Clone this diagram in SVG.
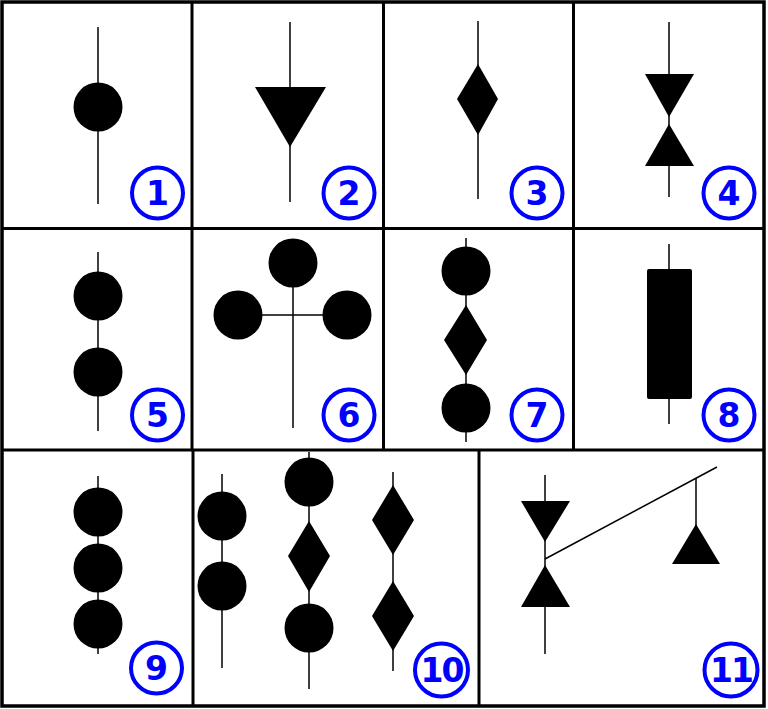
<svg xmlns="http://www.w3.org/2000/svg" width="768" height="709" viewBox="0 0 768 709">
<style>
.frame{fill:none;stroke:#000;stroke-width:3.5}
.grid{stroke:#000;stroke-width:3}
.ln{stroke:#000;stroke-width:1.5;fill:none}
.sh{fill:#000}
.badge circle{fill:none;stroke:#0000ff;stroke-width:4}
.badge text{fill:#0000ff;font-family:"DejaVu Sans",sans-serif;font-weight:bold;font-size:33px;text-anchor:middle}
</style>
<rect x="0" y="0" width="768" height="709" fill="#fff"/>
<g id="grid">
<rect class="frame" x="2" y="2" width="762" height="704"/>
<line class="grid" x1="2" y1="228.5" x2="764" y2="228.5"/>
<line class="grid" x1="2" y1="450" x2="764" y2="450"/>
<line class="grid" x1="192" y1="2" x2="192" y2="450"/>
<line class="grid" x1="383.5" y1="2" x2="383.5" y2="450"/>
<line class="grid" x1="573.5" y1="2" x2="573.5" y2="450"/>
<line class="grid" x1="193" y1="450" x2="193" y2="706"/>
<line class="grid" x1="479" y1="450" x2="479" y2="706"/>
</g>
<g id="connectors">
<line class="ln" x1="98" y1="27" x2="98" y2="204"/>
<line class="ln" x1="290" y1="22" x2="290" y2="202"/>
<line class="ln" x1="478" y1="21" x2="478" y2="199"/>
<line class="ln" x1="669" y1="22" x2="669" y2="197"/>
<line class="ln" x1="98" y1="252" x2="98" y2="431"/>
<line class="ln" x1="293" y1="263" x2="293" y2="428"/>
<line class="ln" x1="238" y1="315" x2="347" y2="315"/>
<line class="ln" x1="466" y1="238" x2="466" y2="442"/>
<line class="ln" x1="669" y1="244" x2="669" y2="424"/>
<line class="ln" x1="98" y1="476" x2="98" y2="654"/>
<line class="ln" x1="222" y1="474" x2="222" y2="668"/>
<line class="ln" x1="309" y1="452" x2="309" y2="689"/>
<line class="ln" x1="393" y1="472" x2="393" y2="671"/>
<line class="ln" x1="545" y1="475" x2="545" y2="654"/>
<line class="ln" x1="545" y1="559" x2="717" y2="467"/>
<line class="ln" x1="696" y1="478" x2="696" y2="526"/>
</g>
<g id="node1">
<circle class="sh" cx="98" cy="107" r="24.5"/>
<g class="badge"><circle cx="157.5" cy="193" r="25.5"/><text x="157.5" y="205">1</text></g>
</g>
<g id="node2">
<polygon class="sh" points="255,87 326,87 290,147"/>
<g class="badge"><circle cx="349" cy="193" r="25.5"/><text x="349" y="205">2</text></g>
</g>
<g id="node3">
<polygon class="sh" points="478,64 498,99 478,135 457,99"/>
<g class="badge"><circle cx="537" cy="193" r="25.5"/><text x="537" y="205">3</text></g>
</g>
<g id="node4">
<polygon class="sh" points="645,74 694,74 669,117"/>
<polygon class="sh" points="669,124 694,166 645,166"/>
<g class="badge"><circle cx="729" cy="193" r="25.5"/><text x="729" y="205">4</text></g>
</g>
<g id="node5">
<circle class="sh" cx="98" cy="296" r="24.5"/>
<circle class="sh" cx="98" cy="372" r="24.5"/>
<g class="badge"><circle cx="157.5" cy="415" r="25.5"/><text x="157.5" y="427">5</text></g>
</g>
<g id="node6">
<circle class="sh" cx="293" cy="263" r="24.5"/>
<circle class="sh" cx="238" cy="315" r="24.5"/>
<circle class="sh" cx="347" cy="315" r="24.5"/>
<g class="badge"><circle cx="349" cy="415" r="25.5"/><text x="349" y="427">6</text></g>
</g>
<g id="node7">
<circle class="sh" cx="466" cy="271" r="24.5"/>
<polygon class="sh" points="466,305 487,340 466,375 444,340"/>
<circle class="sh" cx="466" cy="408" r="24.5"/>
<g class="badge"><circle cx="537" cy="415" r="25.5"/><text x="537" y="427">7</text></g>
</g>
<g id="node8">
<rect class="sh" x="647" y="269" width="45" height="130" rx="2"/>
<g class="badge"><circle cx="729" cy="415" r="25.5"/><text x="729" y="427">8</text></g>
</g>
<g id="node9">
<circle class="sh" cx="98" cy="512" r="24.5"/>
<circle class="sh" cx="98" cy="568" r="24.5"/>
<circle class="sh" cx="98" cy="624" r="24.5"/>
<g class="badge"><circle cx="156.5" cy="668" r="25.5"/><text x="156.5" y="680">9</text></g>
</g>
<g id="node10">
<circle class="sh" cx="222" cy="516" r="24.5"/>
<circle class="sh" cx="222" cy="586" r="24.5"/>
<circle class="sh" cx="309" cy="482" r="24.5"/>
<polygon class="sh" points="309,521 330,556 309,592 288,556"/>
<circle class="sh" cx="309" cy="628" r="24.5"/>
<polygon class="sh" points="393,485 414,520 393,555 372,520"/>
<polygon class="sh" points="393,581 414,616 393,651 372,616"/>
<g class="badge"><circle cx="441.5" cy="670" r="26.5"/><text x="441.5" y="682" letter-spacing="-2">10</text></g>
</g>
<g id="node11">
<polygon class="sh" points="521,501 570,501 545,542"/>
<polygon class="sh" points="545,565 570,607 521,607"/>
<polygon class="sh" points="696,524 720,564 672,564"/>
<g class="badge"><circle cx="731" cy="670" r="26.5"/><text x="731" y="682" letter-spacing="-2">11</text></g>
</g>
</svg>
